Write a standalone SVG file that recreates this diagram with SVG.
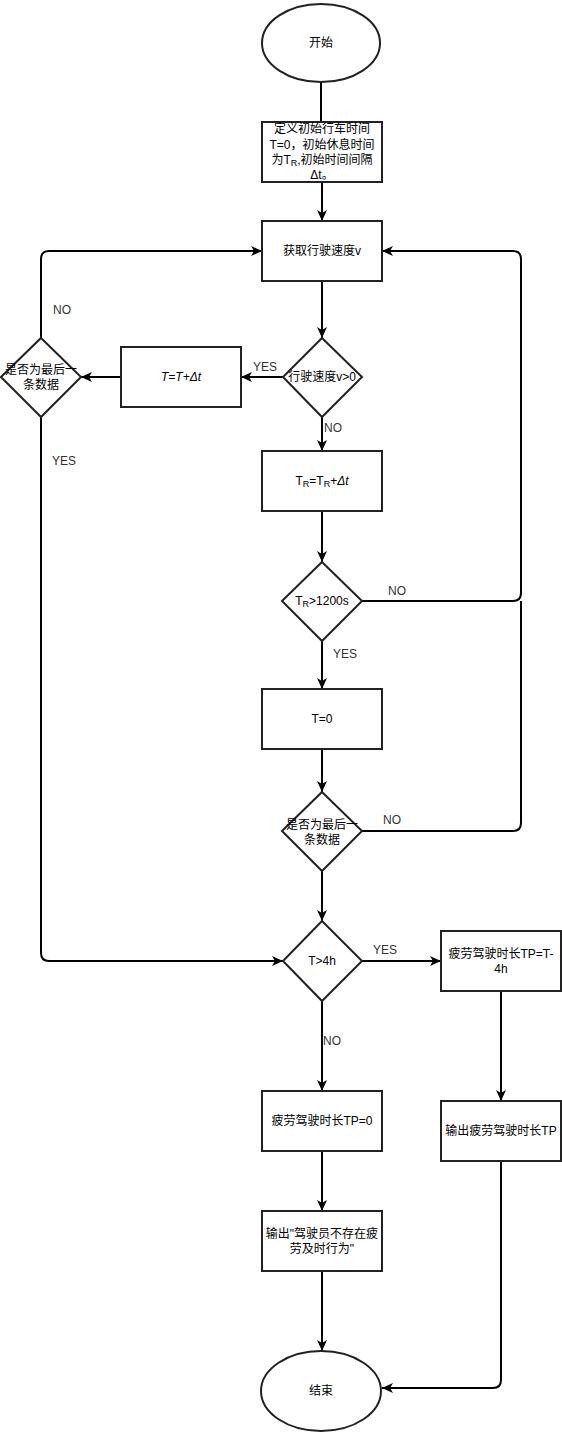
<svg xmlns="http://www.w3.org/2000/svg" width="562" height="1432" viewBox="0 0 562 1432">
<defs>
<marker id="arr" markerUnits="userSpaceOnUse" markerWidth="12" markerHeight="10" refX="11" refY="5" orient="auto">
<path d="M0,0 L11,5 L0,10 L3,5 z" fill="#000"/>
</marker>
<style>
.n{fill:#fff;stroke:#222;stroke-width:2}
.c{fill:none;stroke:#000;stroke-width:2}
.t{font-family:"Liberation Sans","Noto Sans CJK SC",sans-serif;font-size:12px;fill:#000;text-anchor:middle;dominant-baseline:central}
.l{font-family:"Liberation Sans","Noto Sans CJK SC",sans-serif;font-size:12px;fill:#333;text-anchor:middle;dominant-baseline:central}
.s{font-size:9px}
</style>
</defs>
<rect width="562" height="1432" fill="#fff"/>
<g id="connectors">
<path class="c" d="M321,82 L321,122"/>
<path class="c" d="M322,182 L322,221" marker-end="url(#arr)"/>
<path class="c" d="M322,281 L322,338" marker-end="url(#arr)"/>
<path class="c" d="M283,377 L241,377" marker-end="url(#arr)"/>
<path class="c" d="M121,377 L81,377" marker-end="url(#arr)"/>
<path class="c" d="M41,338 L41,259 Q41,251 49,251 L262,251" marker-end="url(#arr)"/>
<path class="c" d="M41,417 L41,953 Q41,961 49,961 L283,961" marker-end="url(#arr)"/>
<path class="c" d="M322,417 L322,451" marker-end="url(#arr)"/>
<path class="c" d="M322,511 L322,562" marker-end="url(#arr)"/>
<path class="c" d="M362,601 L513,601 Q521,601 521,593 L521,259 Q521,251 513,251 L382,251" marker-end="url(#arr)"/>
<path class="c" d="M322,641 L322,689" marker-end="url(#arr)"/>
<path class="c" d="M322,749 L322,792" marker-end="url(#arr)"/>
<path class="c" d="M362,831 L513,831 Q521,831 521,823 L521,601"/>
<path class="c" d="M322,871 L322,921" marker-end="url(#arr)"/>
<path class="c" d="M362,961 L441,961" marker-end="url(#arr)"/>
<path class="c" d="M322,1001 L322,1091" marker-end="url(#arr)"/>
<path class="c" d="M501,991 L501,1101" marker-end="url(#arr)"/>
<path class="c" d="M322,1151 L322,1211" marker-end="url(#arr)"/>
<path class="c" d="M322,1271 L322,1351" marker-end="url(#arr)"/>
<path class="c" d="M501,1161 L501,1380 Q501,1388 493,1388 L382,1388" marker-end="url(#arr)"/>
<text class="l" x="62" y="310">NO</text>
<text class="l" x="265" y="367">YES</text>
<text class="l" x="64" y="461">YES</text>
<text class="l" x="333" y="428">NO</text>
<text class="l" x="397" y="591">NO</text>
<text class="l" x="345" y="654">YES</text>
<text class="l" x="392" y="820">NO</text>
<text class="l" x="385" y="950">YES</text>
<text class="l" x="332" y="1041">NO</text>
</g>
<g id="start">
<ellipse class="n" cx="321" cy="43" rx="59" ry="39"/>
<text class="t" x="321" y="43">开始</text>
</g>
<g id="init">
<rect class="n" x="262" y="122" width="120" height="60"/>
<text class="t" x="322" y="129">定义初始行车时间</text>
<text class="t" x="322" y="145">T=0，初始休息时间</text>
<text class="t" x="322" y="160">为T<tspan class="s" dy="3">R</tspan><tspan dy="-3">,初始时间间隔</tspan></text>
<text class="t" x="322" y="175">Δt。</text>
</g>
<g id="getv">
<rect class="n" x="262" y="221" width="120" height="60"/>
<text class="t" x="322" y="251">获取行驶速度v</text>
</g>
<g id="vcheck">
<polygon class="n" points="322,338 362,377 322,417 283,377"/>
<text class="t" x="322" y="377">行驶速度v&gt;0</text>
</g>
<g id="tinc">
<rect class="n" x="121" y="347" width="120" height="60"/>
<text class="t" x="181" y="377" font-style="italic">T=T+Δt</text>
</g>
<g id="last1">
<polygon class="n" points="41,338 81,377 41,417 1,377"/>
<text class="t" x="41" y="370">是否为最后一</text>
<text class="t" x="41" y="385">条数据</text>
</g>
<g id="trinc">
<rect class="n" x="262" y="451" width="120" height="60"/>
<text class="t" x="322" y="481">T<tspan class="s" dy="3">R</tspan><tspan dy="-3">=T</tspan><tspan class="s" dy="3">R</tspan><tspan dy="-3">+</tspan><tspan dy="0" font-style="italic">Δt</tspan></text>
</g>
<g id="trcheck">
<polygon class="n" points="322,562 362,601 322,641 282,601"/>
<text class="t" x="322" y="601">T<tspan class="s" dy="3">R</tspan><tspan dy="-3">&gt;1200s</tspan></text>
</g>
<g id="treset">
<rect class="n" x="262" y="689" width="120" height="60"/>
<text class="t" x="322" y="719">T=0</text>
</g>
<g id="last2">
<polygon class="n" points="322,792 362,831 322,871 282,831"/>
<text class="t" x="322" y="825">是否为最后一</text>
<text class="t" x="322" y="840">条数据</text>
</g>
<g id="tcheck">
<polygon class="n" points="322,921 362,961 322,1001 283,961"/>
<text class="t" x="322" y="961">T&gt;4h</text>
</g>
<g id="tp">
<rect class="n" x="441" y="931" width="120" height="60"/>
<text class="t" x="501" y="954">疲劳驾驶时长TP=T-</text>
<text class="t" x="501" y="969">4h</text>
</g>
<g id="tp0">
<rect class="n" x="262" y="1091" width="120" height="60"/>
<text class="t" x="322" y="1121">疲劳驾驶时长TP=0</text>
</g>
<g id="outtp">
<rect class="n" x="441" y="1101" width="120" height="60"/>
<text class="t" x="501" y="1131">输出疲劳驾驶时长TP</text>
</g>
<g id="outnone">
<rect class="n" x="262" y="1211" width="120" height="60"/>
<text class="t" x="322" y="1234">输出"驾驶员不存在疲</text>
<text class="t" x="322" y="1249">劳及时行为"</text>
</g>
<g id="end">
<ellipse class="n" cx="321" cy="1391" rx="60" ry="40"/>
<text class="t" x="321" y="1391">结束</text>
</g>
</svg>
